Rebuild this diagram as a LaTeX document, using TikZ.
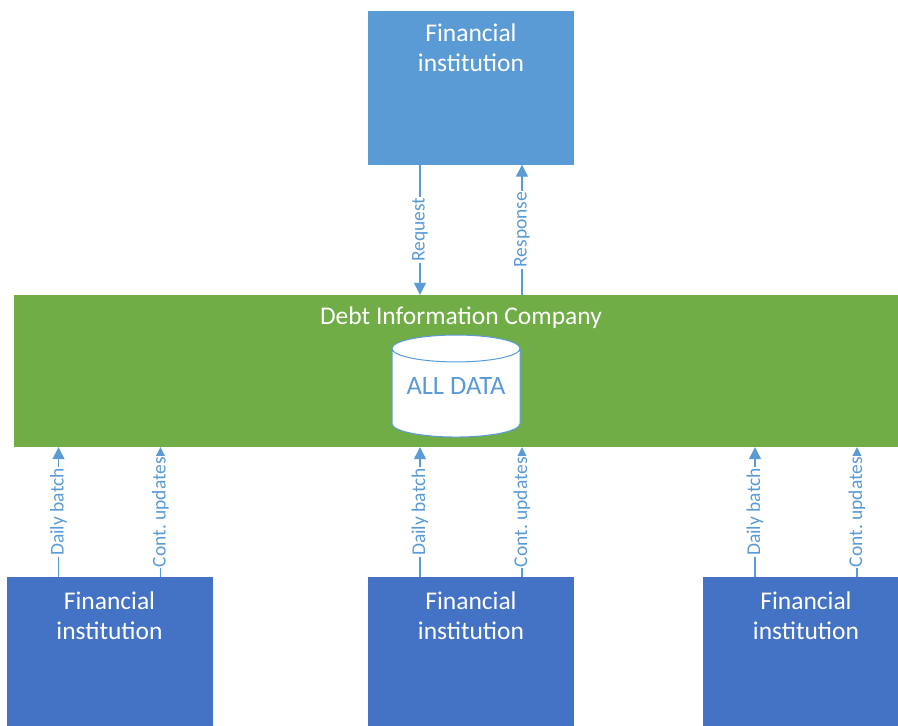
\documentclass[tikz,border=0pt]{standalone}
\usepackage{fontspec}
\setmainfont{Carlito}
\usetikzlibrary{positioning}
\usetikzlibrary{arrows.meta,shapes.geometric}
\definecolor{lightblue}{HTML}{5B9BD5}
\definecolor{darkblue}{HTML}{4472C4}
\definecolor{dicgreen}{HTML}{70AD47}
\tikzstyle{institution}=[rectangle,minimum width=206pt,minimum height=154pt,inner sep=0pt]
\tikzstyle{boxtext}=[text=white,align=center,font=\fontsize{25.5}{30}\selectfont,inner sep=0pt]
\tikzstyle{company}=[rectangle,fill=dicgreen,minimum width=892pt,minimum height=152pt,inner sep=0pt]
\tikzstyle{datastore}=[cylinder,shape border rotate=90,aspect=0.3,draw=lightblue,fill=white,line width=1pt,minimum width=128pt,minimum height=102pt,inner sep=0pt,font=\fontsize{24}{30}\selectfont]
\tikzstyle{flow}=[draw=lightblue,line width=1.4pt,-{Triangle[length=12pt,width=12pt]}]
\tikzstyle{flowlabel}=[fill=white,text=lightblue,font=\fontsize{19.5}{22}\selectfont,rotate=90,inner sep=1pt]
\frenchspacing
\begin{document}
\begin{tikzpicture}[x=1pt,y=-1pt]
\useasboundingbox (0,0) rectangle (898,726);
\clip (0,0) rectangle (898,726);

% asking institution
\node[institution,fill=lightblue] (fitop) at (471,87.5) {};
\node[boxtext,below=13pt of fitop.north] (fitoptext) {Financial\\institution};

% the company and its store
\node[company] (dic) at (460,371) {};
\node[boxtext,below=12pt of dic.north,xshift=1pt] (dictext) {Debt Information Company};
\node[datastore] (db) at (456,393) {\phantom{ALL DATA}};
\node[boxtext,text=lightblue,font=\fontsize{26.5}{30}\selectfont] (dbtext) at (db.shape center) {ALL DATA};

% reporting institutions
\foreach \pos/\name in {{(109.5,654)/fione}, {(471,654)/fitwo}, {(806,654)/fithree}}
  \node[institution,fill=darkblue] (\name) at \pos {};
\foreach \name in {fione,fitwo,fithree}
  \node[boxtext,below=15pt of \name.north] (\name text) {Financial\\institution};

% request and response
\draw[flow] ([xshift=-51pt]fitop.south) -- ([xshift=-51pt]fitop.south |- dic.north) node[flowlabel,midway] {Request};
\draw[flow] ([xshift=51pt]fitop.south |- dic.north) -- ([xshift=51pt]fitop.south) node[flowlabel,midway] {Response};

% data coming in
\foreach \name in {fione,fitwo,fithree}{
  \draw[flow] ([xshift=-51pt]\name.north) -- ([xshift=-51pt]\name.north |- dic.south) node[flowlabel,midway] {Daily batch};
  \draw[flow] ([xshift=51pt]\name.north) -- ([xshift=51pt]\name.north |- dic.south) node[flowlabel,midway] {Cont. updates};
}
\end{tikzpicture}
\end{document}
